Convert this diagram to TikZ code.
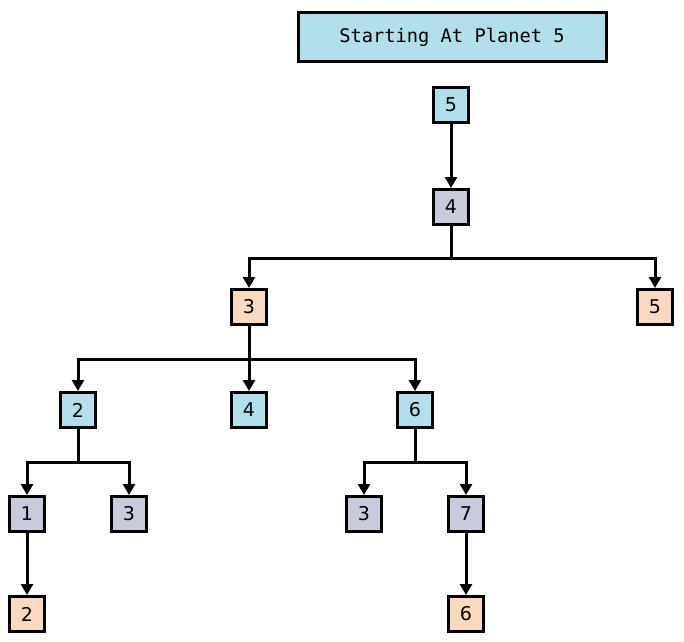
\documentclass[tikz,border=0pt]{standalone}
\usepackage{fontspec}
\setmainfont{DejaVu Sans}
\setmonofont{DejaVu Sans Mono}
\usepackage{xcolor}
\usetikzlibrary{arrows.meta, positioning}
\definecolor{planetblue}{HTML}{B2DFEB}
\definecolor{planetgray}{HTML}{C9CADB}
\definecolor{planetpeach}{HTML}{FAD9C1}

\begin{document}
\begin{tikzpicture}[x=1pt, y=-1pt,
        planet/.style={draw, line width=3pt, minimum width=35pt, minimum height=35pt, inner sep=0pt, font=\fontsize{19}{22}\selectfont},
        title/.style={draw, line width=3pt, fill=planetblue, minimum width=308pt, minimum height=49pt, font=\ttfamily\fontsize{18.7}{22}\selectfont},
        arrow/.style={-{Triangle[length=11pt, width=12pt]}, line width=3pt}
    ]
        \useasboundingbox (0,0) rectangle (684,641);

        % Title
        \node[title] (head) at (452,37) {Starting At Planet 5};

        % Planets
        \node[planet, fill=planetblue] (p5) at (451,105) {5};
        \node[planet, fill=planetgray] (p4) at (451,207) {4};

        \node[planet, fill=planetpeach] (p3) at (249,307) {3};
        \node[planet, fill=planetpeach] (p5b) at (655,307) {5};

        \node[planet, fill=planetblue] (p2) at (78,410) {2};
        \node[planet, fill=planetblue] (p4b) at (249,410) {4};
        \node[planet, fill=planetblue] (p6) at (415,410) {6};

        \node[planet, fill=planetgray] (p1) at (27,514) {1};
        \node[planet, fill=planetgray] (p3b) at (129,514) {3};
        \node[planet, fill=planetgray] (p3c) at (364,514) {3};
        \node[planet, fill=planetgray] (p7) at (466,514) {7};

        \node[planet, fill=planetpeach] (p2b) at (27,614) {2};
        \node[planet, fill=planetpeach] (p6b) at (466,614) {6};

        % Links
        \draw[arrow] (p5) -- (p4);
        \draw[arrow] (p4.south) -- ++(0,32) -| (p3.north);
        \draw[arrow] (p4.south) -- ++(0,32) -| (p5b.north);

        \draw[arrow] (p3.south) -- ++(0,33) -| (p2.north);
        \draw[arrow] (p3) -- (p4b);
        \draw[arrow] (p3.south) -- ++(0,33) -| (p6.north);

        \draw[arrow] (p2.south) -- ++(0,33) -| (p1.north);
        \draw[arrow] (p2.south) -- ++(0,33) -| (p3b.north);
        \draw[arrow] (p6.south) -- ++(0,33) -| (p3c.north);
        \draw[arrow] (p6.south) -- ++(0,33) -| (p7.north);

        \draw[arrow] (p1) -- (p2b);
        \draw[arrow] (p7) -- (p6b);
    \end{tikzpicture}
\end{document}
